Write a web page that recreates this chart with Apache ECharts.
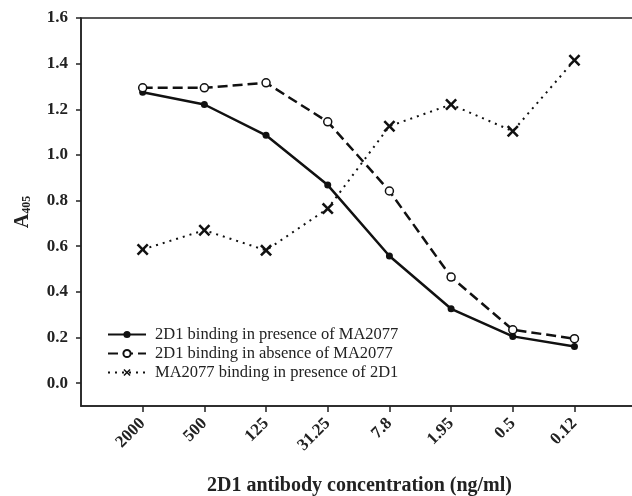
<!DOCTYPE html>
<html>
<head>
    <meta charset="utf-8">
    <title>ECharts</title>
    <script src="https://cdn.jsdelivr.net/npm/echarts@6/dist/echarts.min.js"></script>
</head>
<body style="margin:0">
    <div id="main" style="width: 632px;height:496px;"></div>
    <script type="text/javascript">
        var categories = ['2000', '500', '125', '31.25', '7.8', '1.95', '0.5', '0.12'];
        var presence = [1.275, 1.221, 1.086, 0.868, 0.557, 0.326, 0.205, 0.161];
        var absence = [1.294, 1.294, 1.316, 1.145, 0.842, 0.465, 0.234, 0.195];
        var ma2077 = [0.586, 0.670, 0.582, 0.765, 1.126, 1.221, 1.104, 1.415];
        var yTicks = [0, 0.2, 0.4, 0.6, 0.8, 1.0, 1.2, 1.4, 1.6];
        var xTicks = [0, 1, 2, 3, 4, 5, 6, 7];

        function pairs(arr) {
            return arr.map(function (v, i) { return [i, v]; });
        }

        var serif = 'Liberation Serif';
        var crossPath = 'path://M0,1.5 L1.5,0 L5,3.5 L8.5,0 L10,1.5 L6.5,5 L10,8.5 L8.5,10 L5,6.5 L1.5,10 L0,8.5 L3.5,5 Z';

        var myChart = echarts.init(document.getElementById('main'));
        var option = {
            animation: false,
            backgroundColor: '#fff',
            grid: {
                left: 81, top: 18, right: -6, bottom: 90,
                outerBoundsMode: 'none',
                show: true, borderColor: '#222', borderWidth: 1.5
            },
            legend: {
                left: 107, top: 326, orient: 'vertical', padding: 0,
                itemWidth: 38, itemHeight: 9, itemGap: 2,
                textStyle: { fontFamily: serif, fontSize: 16.5, color: '#222', padding: [0, 0, 0, 4] },
                data: ['2D1 binding in presence of MA2077', '2D1 binding in absence of MA2077', 'MA2077 binding in presence of 2D1']
            },
            xAxis: {
                type: 'value', min: -1, max: 8.03,
                splitLine: { show: false },
                axisLine: { onZero: false, lineStyle: { color: '#222', width: 1.5 } },
                axisTick: { customValues: xTicks, length: 6, lineStyle: { color: '#222', width: 1.5 } },
                axisLabel: {
                    customValues: xTicks, rotate: 45, margin: 15,
                    fontFamily: serif, fontWeight: 'bold', fontSize: 17, color: '#222',
                    formatter: function (v) { return categories[Math.round(v)]; }
                },
                name: '2D1 antibody concentration (ng/ml)',
                nameLocation: 'middle', nameGap: 70,
                nameTextStyle: { fontFamily: serif, fontWeight: 'bold', fontSize: 20, color: '#222' }
            },
            yAxis: {
                type: 'value', min: -0.1, max: 1.6,
                splitLine: { show: false },
                axisLine: { show: true, onZero: false, lineStyle: { color: '#222', width: 1.5 } },
                axisTick: { show: true, customValues: yTicks, length: 5, lineStyle: { color: '#222', width: 1.5 } },
                axisLabel: {
                    customValues: yTicks, margin: 13,
                    fontFamily: serif, fontWeight: 'bold', fontSize: 17, color: '#222',
                    formatter: function (v) { return v.toFixed(1); }
                },
                name: 'A{sub|405}',
                nameLocation: 'middle', nameGap: 48,
                nameTextStyle: {
                    fontFamily: serif, fontWeight: 'bold', fontSize: 20, color: '#222',
                    rich: { sub: { fontFamily: serif, fontWeight: 'bold', fontSize: 12, color: '#222', padding: [9, 0, 0, 0] } }
                }
            },
            series: [{
                name: '2D1 binding in presence of MA2077',
                type: 'line',
                data: pairs(presence),
                symbol: 'circle', symbolSize: 7,
                lineStyle: { color: '#111', width: 2.5 },
                itemStyle: { color: '#111' }
            }, {
                name: '2D1 binding in absence of MA2077',
                type: 'line',
                data: pairs(absence),
                symbol: 'circle', symbolSize: 8,
                lineStyle: { color: '#111', width: 2.5, type: [10, 5] },
                itemStyle: { color: '#fff', borderColor: '#111', borderWidth: 1.5 }
            }, {
                name: 'MA2077 binding in presence of 2D1',
                type: 'line',
                data: pairs(ma2077),
                symbol: crossPath, symbolSize: 12,
                lineStyle: { color: '#111', width: 2, type: [2, 5] },
                itemStyle: { color: '#111' }
            }]
        };
        myChart.setOption(option);
    </script>
</body>
</html>
